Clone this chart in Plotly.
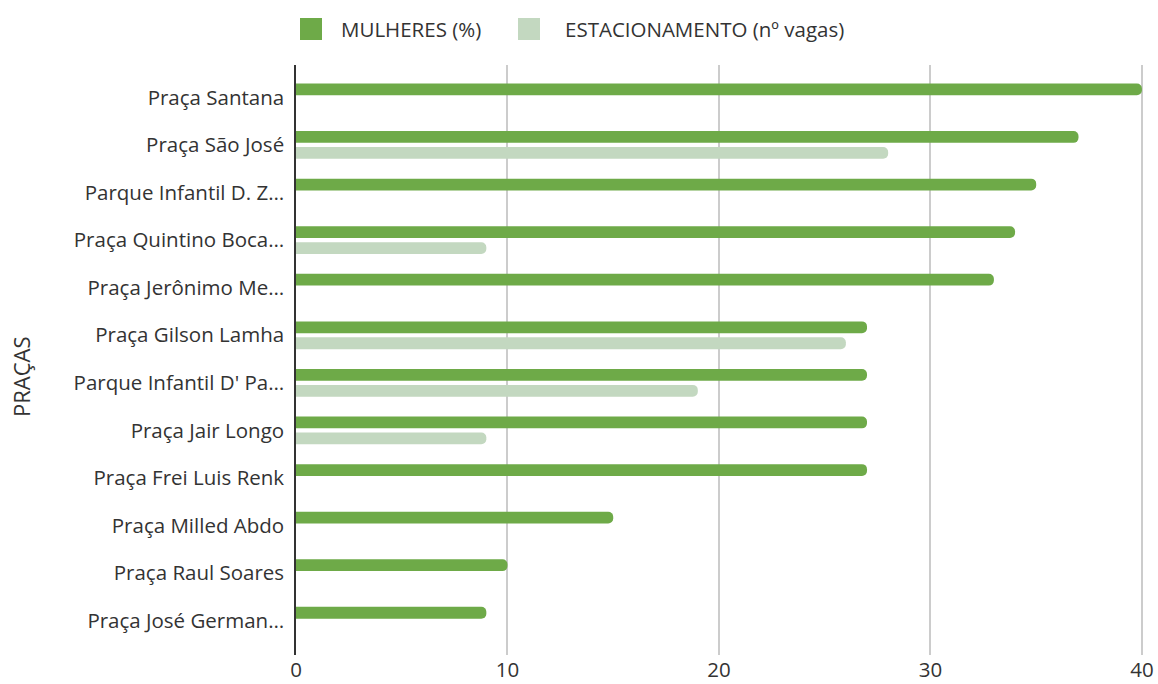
import plotly.graph_objects as go

pracas = [
    "Praça Santana",
    "Praça São José",
    "Parque Infantil D. Z…",
    "Praça Quintino Boca…",
    "Praça Jerônimo Me…",
    "Praça Gilson Lamha",
    "Parque Infantil D' Pa…",
    "Praça Jair Longo",
    "Praça Frei Luis Renk",
    "Praça Milled Abdo",
    "Praça Raul Soares",
    "Praça José German…",
]
mulheres = [40, 37, 35, 34, 33, 27, 27, 27, 27, 15, 10, 9]
estacionamento = [None, 28, None, 9, None, 26, 19, 9, None, None, None, None]
x_ticks = [0, 10, 20, 30, 40]
series_names = ["MULHERES (%)", "ESTACIONAMENTO (nº vagas)"]

GREEN = "#6eaa48"
LIGHT = "#c3d8c0"
TEXT = "#333333"
FONT = "Open Sans"
FS = 20.5

# plot area in pixels (used only for placing the hand-drawn legend / title)
L, R, T, B = 296, 15, 65, 29
W, H = 1158, 684
PW, PH = W - L - R, H - T - B


def px_x(p):
    return (p - L) / PW


def px_y(p):
    return (H - B - p) / PH


fig = go.Figure()
for name, values, colour in [
    (series_names[0], mulheres, GREEN),
    (series_names[1], estacionamento, LIGHT),
]:
    fig.add_trace(
        go.Bar(
            y=pracas,
            x=values,
            orientation="h",
            name=name,
            marker=dict(color=colour, cornerradius=5, line=dict(width=0)),
            showlegend=False,
        )
    )

# legend drawn by hand to get the large square swatches
legend_items = [(series_names[0], GREEN, 300, 339), (series_names[1], LIGHT, 518, 563)]
for name, colour, sx, tx in legend_items:
    fig.add_shape(
        type="rect",
        xref="paper",
        yref="paper",
        x0=px_x(sx),
        x1=px_x(sx + 22),
        y0=px_y(40),
        y1=px_y(18),
        fillcolor=colour,
        line=dict(width=0),
    )
    fig.add_annotation(
        text=name,
        x=px_x(tx),
        y=px_y(29),
        xref="paper",
        yref="paper",
        xanchor="left",
        yanchor="middle",
        showarrow=False,
        font=dict(size=FS, color=TEXT, family=FONT),
    )

fig.add_annotation(
    text="PRAÇAS",
    textangle=-90,
    x=px_x(21),
    y=px_y(377),
    xref="paper",
    yref="paper",
    xanchor="center",
    yanchor="middle",
    showarrow=False,
    font=dict(size=22, color=TEXT, family=FONT),
)

fig.update_layout(
    width=W,
    height=H,
    autosize=False,
    barmode="group",
    bargap=0.33,
    bargroupgap=0.26,
    plot_bgcolor="white",
    paper_bgcolor="white",
    font=dict(family=FONT, size=FS, color=TEXT),
    margin=dict(l=L, r=R, t=T, b=B),
    xaxis=dict(
        range=[0, 40.05],
        tickvals=x_ticks,
        showgrid=True,
        gridcolor="#cccccc",
        gridwidth=1.5,
        zeroline=False,
        showline=False,
        ticks="",
        automargin=False,
        tickfont=dict(size=FS, color=TEXT),
    ),
    yaxis=dict(
        categoryorder="array",
        categoryarray=pracas,
        range=[11.72, -0.68],
        showgrid=False,
        showline=True,
        linecolor="#333333",
        linewidth=1.5,
        ticks="",
        ticklabelstandoff=6,
        automargin=False,
        tickfont=dict(size=FS, color=TEXT),
    ),
)

# the page body has a default 8px margin; drop it so the figure fills the window
fig.write_html(
    "out.html",
    config={"displayModeBar": False},
    post_script="document.body.style.margin='0';document.body.style.overflow='hidden';",
)
